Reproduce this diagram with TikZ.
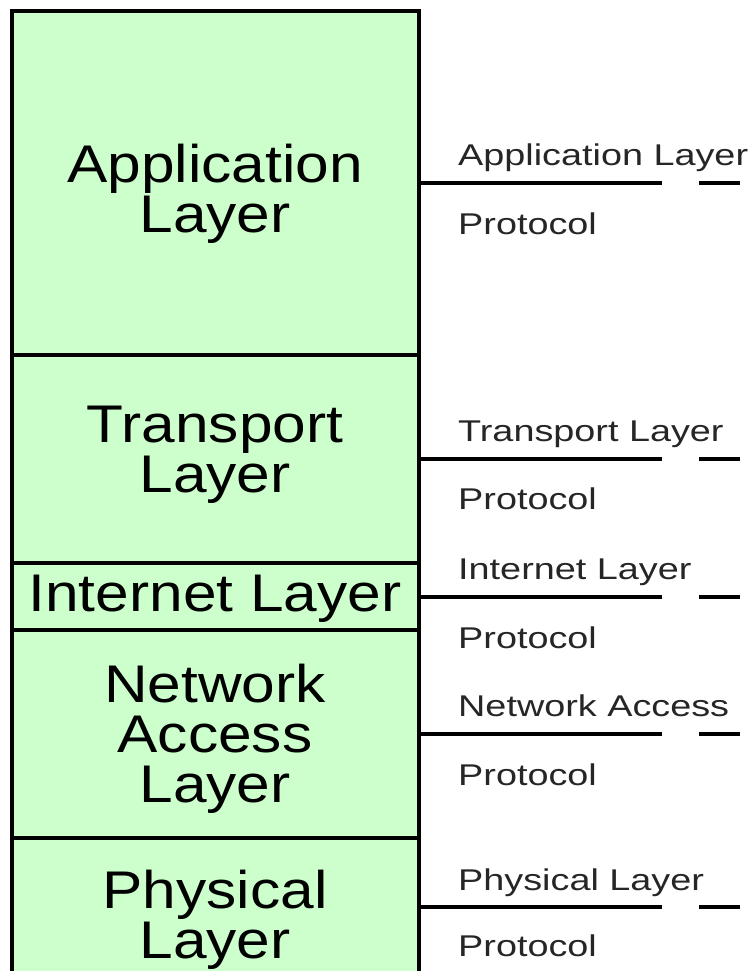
\documentclass[tikz,border=0pt]{standalone}
\usepackage{fontspec}
\setmainfont{Liberation Sans}
\newfontfamily\widefont[FakeStretch=1.14]{Liberation Sans}
\newfontfamily\labelfont[FakeStretch=1.26]{Liberation Sans}
\definecolor{layergreen}{HTML}{CCFFCC}
\begin{document}
\begin{tikzpicture}[x=1pt,y=-1pt,
  layerbox/.style={draw, line width=4.5pt, fill=layergreen, minimum width=407pt,
    inner sep=0pt, outer sep=0pt, anchor=north west},
  layertext/.style={font=\widefont\fontsize{53}{50}\selectfont, align=center, inner sep=0pt},
  prototext/.style={font=\labelfont\fontsize{30}{36}\selectfont, anchor=base west,
    inner sep=0pt, text=black!85},
  protoline/.style={line width=4pt, dash pattern=on 243pt off 37pt on 41pt off 300pt}]
\useasboundingbox (0,0) rectangle (753,971);
\clip (0,0) rectangle (753,971);
% layer boxes
\node[layerbox, minimum height=344pt] (app)   at (12,11)  {};
\node[layerbox, minimum height=208pt] (trans) at (12,355) {};
\node[layerbox, minimum height=67pt]  (inet)  at (12,563) {};
\node[layerbox, minimum height=208pt] (net)   at (12,630) {};
\node[layerbox, minimum height=138pt] (phys)  at (12,838) {};
% layer names
\node[layertext] (apptxt)   at (215,194) {Application\\Layer};
\node[layertext] (transtxt) at (215,455) {Transport\\Layer};
\node[layertext] (inettxt)  at (215,599) {Internet Layer};
\node[layertext] (nettxt)   at (215,739) {Network\\Access\\Layer};
\node[layertext] (phystxt)  at (215,920) {Physical\\Layer};
% protocol lines
\draw[protoline] (app.east)   -- ++(322,0);
\draw[protoline] (trans.east) -- ++(322,0);
\draw[protoline] (inet.east)  -- ++(322,0);
\draw[protoline] (net.east)   -- ++(322,0);
\draw[protoline] (phys.east)  -- ++(322,0);
% protocol labels
\node[prototext] (appl1)   at (458,165) {Application Layer};
\node[prototext] (appl2)   at (458,234) {Protocol};
\node[prototext] (transl1) at (458,441) {Transport Layer};
\node[prototext] (transl2) at (458,509) {Protocol};
\node[prototext] (inetl1)  at (458,579) {Internet Layer};
\node[prototext] (inetl2)  at (458,648) {Protocol};
\node[prototext] (netl1)   at (458,716) {Network Access};
\node[prototext] (netl2)   at (458,785) {Protocol};
\node[prototext] (physl1)  at (458,890) {Physical Layer};
\node[prototext] (physl2)  at (458,956) {Protocol};
\end{tikzpicture}
\end{document}
